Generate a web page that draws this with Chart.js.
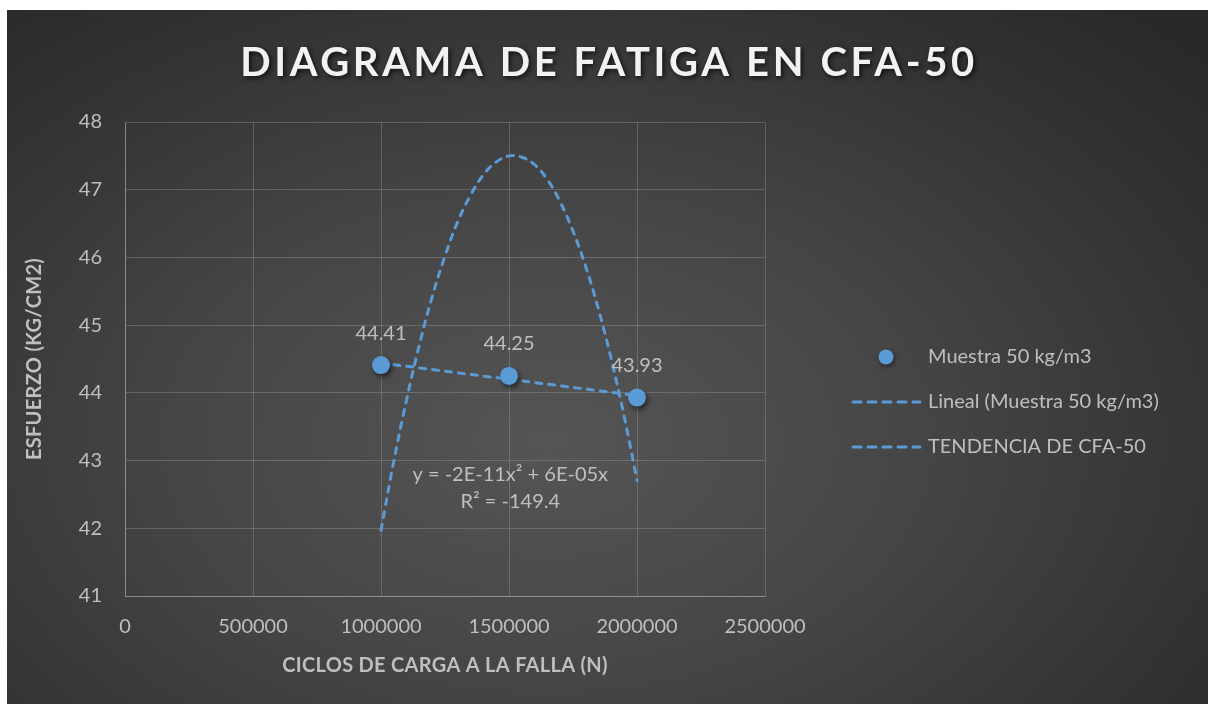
<!DOCTYPE html>
<html lang="es">
<head>
<meta charset="utf-8">
<title>Diagrama de fatiga en CFA-50</title>
<script src="https://cdn.jsdelivr.net/npm/chart.js@4.4.1/dist/chart.umd.min.js"></script>
<style>
  html, body { margin: 0; padding: 0; background: #ffffff; }
  #panel {
    position: absolute; left: 7px; top: 10px; width: 1201px; height: 694px;
    background: radial-gradient(ellipse 75% 85% at 45% 62%, #555555 0%, #464646 40%, #313131 80%, #282828 100%);
  }
  canvas { display: block; }
</style>
</head>
<body>
<div id="panel"><canvas id="chart" width="1201" height="694"></canvas></div>
<script>
// Ensayos de fatiga: ciclos hasta la falla y esfuerzo medido
const cycles = [1000000, 1500000, 2000000];
const stress = [44.41, 44.25, 43.93];

// Línea de tendencia lineal (extremos)
const linealX = [1000000, 2000000];
const linealY = [44.44, 43.96];

// Línea de tendencia polinómica (TENDENCIA DE CFA-50)
const trendX = [1000000, 1050000, 1100000, 1150000, 1200000, 1250000, 1300000, 1350000, 1400000, 1450000, 1500000,
                1550000, 1600000, 1650000, 1700000, 1750000, 1800000, 1850000, 1900000, 1950000, 2000000];
const trendY = [41.97, 42.99, 43.90, 44.71, 45.42, 46.02, 46.53, 46.92, 47.22, 47.41, 47.50,
                47.48, 47.37, 47.15, 46.82, 46.39, 45.86, 45.23, 44.49, 43.65, 42.71];

// Etiquetas de los ejes
const xTicks = [0, 500000, 1000000, 1500000, 2000000, 2500000];
const yTicks = [41, 42, 43, 44, 45, 46, 47, 48];

const seriesNames = ['Muestra 50 kg/m3', 'Lineal (Muestra 50 kg/m3)', 'TENDENCIA DE CFA-50'];
const chartTitle = 'DIAGRAMA DE FATIGA EN CFA-50';
const xTitle = 'CICLOS DE CARGA A LA FALLA (N)';
const yTitle = 'ESFUERZO (KG/CM2)';
const equation = ['y = -2E-11x\u00B2 + 6E-05x', 'R\u00B2 = -149.4'];

const BLUE = '#5B9BD5';
const TEXT = '#bfbfbf';
const GRID = 'rgba(217,217,217,0.22)';
const FONT = 'Lato, "Open Sans", sans-serif';

const zip = (xs, ys) => xs.map((x, i) => ({ x, y: ys[i] }));

// Sombra de los marcadores
const markerShadow = {
  id: 'markerShadow',
  beforeDatasetDraw(chart, args) {
    if (args.index !== 0) return;
    const ctx = chart.ctx;
    ctx.save();
    ctx.shadowColor = 'rgba(0,0,0,0.55)';
    ctx.shadowBlur = 5;
    ctx.shadowOffsetX = 2;
    ctx.shadowOffsetY = 3;
  },
  afterDatasetDraw(chart, args) {
    if (args.index !== 0) return;
    chart.ctx.restore();
  }
};

// Títulos, rótulos de datos, ecuación y leyenda
const decorations = {
  id: 'decorations',
  afterDraw(chart) {
    const ctx = chart.ctx;
    const area = chart.chartArea;

    // título principal
    ctx.save();
    ctx.font = `bold 40px ${FONT}`;
    ctx.letterSpacing = '3.6px';
    ctx.fillStyle = '#f2f2f2';
    ctx.textAlign = 'center';
    ctx.textBaseline = 'middle';
    ctx.shadowColor = 'rgba(0,0,0,0.7)';
    ctx.shadowBlur = 5;
    ctx.shadowOffsetX = 2;
    ctx.shadowOffsetY = 2;
    ctx.fillText(chartTitle, 602, 53);
    ctx.restore();

    // títulos de ejes
    ctx.save();
    ctx.font = `bold 20px ${FONT}`;
    ctx.letterSpacing = '0.3px';
    ctx.fillStyle = TEXT;
    ctx.textAlign = 'center';
    ctx.textBaseline = 'middle';
    ctx.fillText(xTitle, (area.left + area.right) / 2, 656);
    ctx.translate(28, (area.top + area.bottom) / 2);
    ctx.rotate(-Math.PI / 2);
    ctx.fillText(yTitle, 0, 0);
    ctx.restore();

    // rótulos de datos sobre cada punto
    const meta = chart.getDatasetMeta(0);
    ctx.save();
    ctx.font = `20px ${FONT}`;
    ctx.fillStyle = TEXT;
    ctx.textAlign = 'center';
    ctx.textBaseline = 'middle';
    meta.data.forEach((pt, i) => {
      ctx.fillText(stress[i].toFixed(2), pt.x, pt.y - 32);
    });

    // ecuación de la tendencia
    const xs = chart.scales.x, ys = chart.scales.y;
    const ex = xs.getPixelForValue(1505000);
    const ey = ys.getPixelForValue(42.8);
    ctx.fillText(equation[0], ex, ey);
    ctx.fillText(equation[1], ex, ey + 27);
    ctx.restore();

    // leyenda
    ctx.save();
    ctx.font = `20px ${FONT}`;
    ctx.fillStyle = TEXT;
    ctx.textAlign = 'left';
    ctx.textBaseline = 'middle';
    const lx = 921, rows = [347, 392, 437];
    ctx.fillText(seriesNames[0], lx, rows[0]);
    ctx.fillText(seriesNames[1], lx, rows[1]);
    ctx.fillText(seriesNames[2], lx, rows[2]);
    ctx.fillStyle = BLUE;
    ctx.shadowColor = 'rgba(0,0,0,0.5)';
    ctx.shadowBlur = 4;
    ctx.shadowOffsetX = 1;
    ctx.shadowOffsetY = 2;
    ctx.beginPath();
    ctx.arc(879, rows[0], 7.5, 0, Math.PI * 2);
    ctx.fill();
    ctx.shadowColor = 'transparent';
    ctx.strokeStyle = BLUE;
    ctx.lineWidth = 3;
    ctx.lineCap = 'round';
    ctx.setLineDash([8, 7]);
    [rows[1], rows[2]].forEach(r => {
      ctx.beginPath();
      ctx.moveTo(846, r);
      ctx.lineTo(913, r);
      ctx.stroke();
    });
    ctx.restore();
  }
};

new Chart(document.getElementById('chart'), {
  type: 'scatter',
  data: {
    datasets: [
      {
        label: seriesNames[0],
        data: zip(cycles, stress),
        backgroundColor: BLUE,
        borderColor: BLUE,
        borderWidth: 0,
        pointRadius: 9,
        pointHoverRadius: 9
      },
      {
        label: seriesNames[1],
        data: zip(linealX, linealY),
        showLine: true,
        borderColor: BLUE,
        borderWidth: 3,
        borderDash: [6, 7],
        borderCapStyle: 'round',
        pointRadius: 0,
        fill: false
      },
      {
        label: seriesNames[2],
        data: zip(trendX, trendY),
        showLine: true,
        borderColor: BLUE,
        borderWidth: 3,
        borderDash: [6, 7],
        borderCapStyle: 'round',
        tension: 0.4,
        pointRadius: 0,
        fill: false
      }
    ]
  },
  options: {
    responsive: false,
    animation: false,
    layout: { padding: { top: 112, right: 443, left: 0, bottom: 0 } },
    plugins: {
      legend: { display: false },
      title: { display: false },
      tooltip: { enabled: false }
    },
    scales: {
      x: {
        type: 'linear',
        min: 0,
        max: 2500000,
        afterBuildTicks: s => { s.ticks = xTicks.map(v => ({ value: v })); },
        afterFit: s => { s.height = 108; },
        ticks: {
          color: TEXT,
          font: { family: FONT, size: 20 },
          padding: 19,
          maxRotation: 0,
          autoSkip: false,
          callback: v => String(v)
        },
        grid: { color: GRID, lineWidth: 1, drawTicks: false },
        border: { color: 'rgba(217,217,217,0.35)', width: 1 }
      },
      y: {
        min: 41,
        max: 48,
        afterBuildTicks: s => { s.ticks = yTicks.map(v => ({ value: v })); },
        afterFit: s => { s.width = 118; },
        ticks: {
          color: TEXT,
          font: { family: FONT, size: 20 },
          padding: 23,
          autoSkip: false,
          callback: v => String(v)
        },
        grid: { color: GRID, lineWidth: 1, drawTicks: false },
        border: { color: 'rgba(217,217,217,0.35)', width: 1 }
      }
    }
  },
  plugins: [markerShadow, decorations]
});
</script>
</body>
</html>
